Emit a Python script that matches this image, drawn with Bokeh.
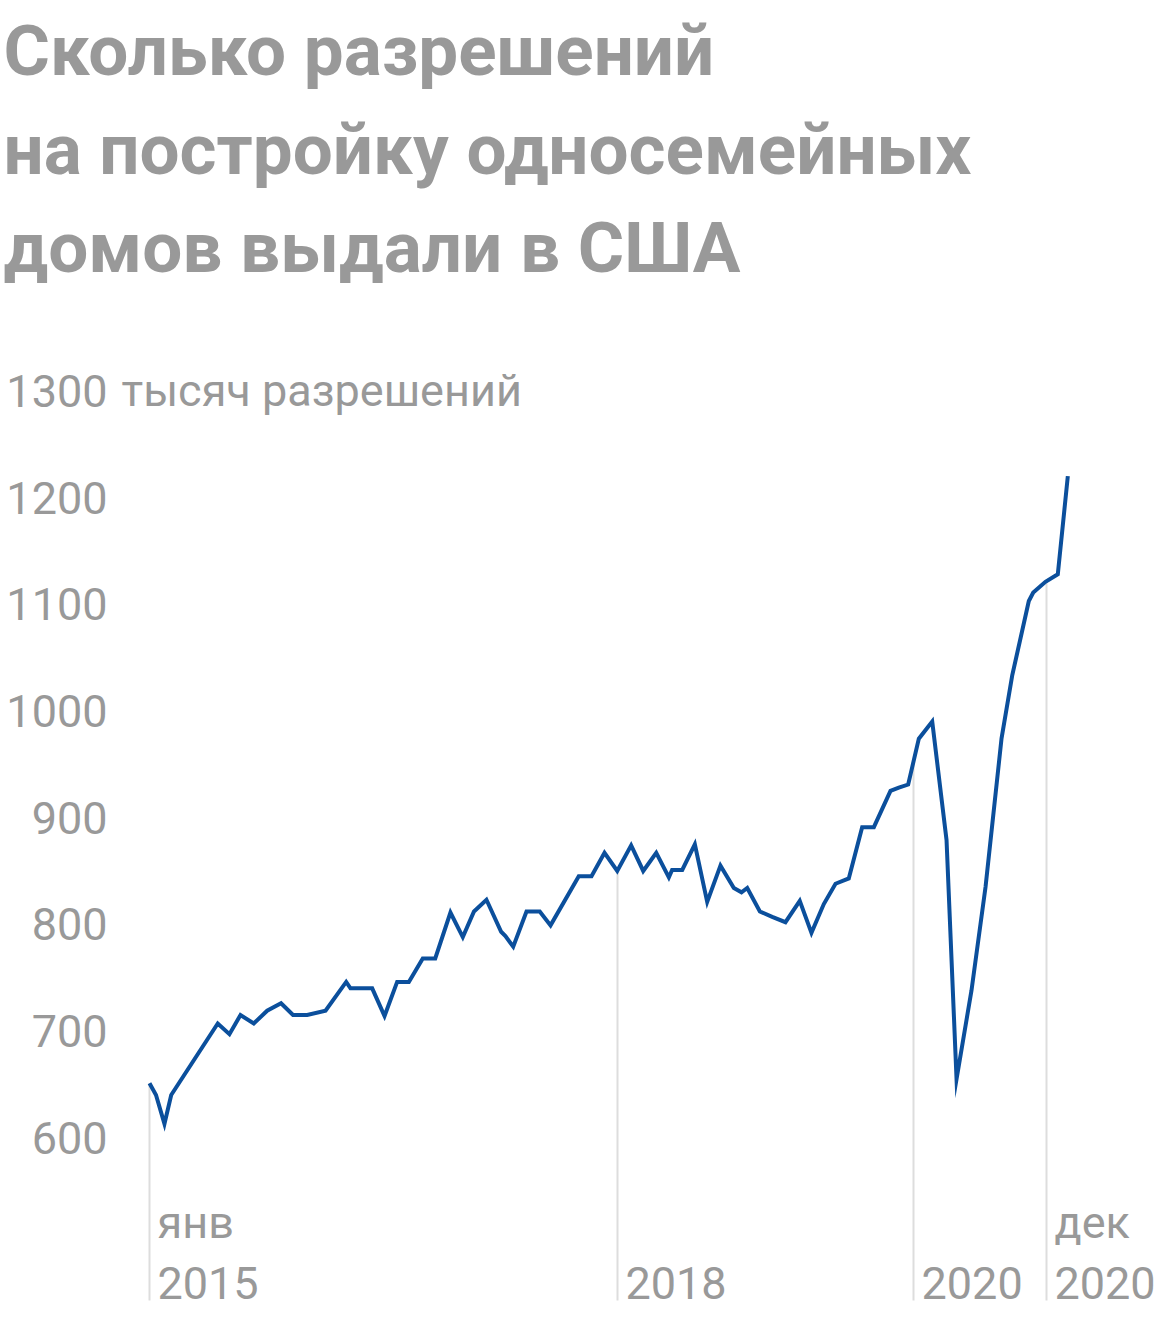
import numpy as np
from bokeh.plotting import figure
from bokeh.models import Range1d
from bokeh.core.properties import value
from bokeh.embed import file_html
from bokeh.resources import INLINE

# ---------------- data ----------------
TITLE_LINES = ["Сколько разрешений", "на постройку односемейных", "домов выдали в США"]
UNIT_LABEL = "тысяч разрешений"

# months since January 2015
months = [0.0, 0.5, 1.15, 1.67, 5.25, 6.15, 7.0, 8.02, 9.05, 10.12,
          11.04, 12.13, 13.54, 15.13, 15.46, 17.13, 18.08, 19.05, 19.95, 21.02,
          21.98, 23.15, 24.1, 24.96, 25.92, 27.05, 27.38, 27.98, 29.0, 30.02,
          30.85, 33.02, 34.0, 35.0, 35.98, 37.05, 37.98, 38.98, 39.95, 40.2,
          40.98, 41.95, 42.9, 43.92, 44.95, 45.54, 45.98, 46.95, 47.9, 48.92,
          50.02, 50.92, 51.87, 52.77, 53.79, 54.82, 55.72, 57.0, 57.64, 58.36,
          59.18, 60.21, 61.31, 62.08, 63.23, 64.31, 65.54, 66.36, 67.64, 67.98,
          68.92, 69.87, 70.64]
# single-family permits, thousands
permits = [651, 640, 613, 640, 707, 697, 715, 707, 719, 726,
           715, 715, 719, 746, 740, 740, 714, 746, 746, 768,
           768, 811, 788, 812, 823, 793, 789, 779, 812, 812,
           799, 845, 845, 867, 850, 874, 850, 867, 844, 851,
           851, 875, 821, 855, 834, 830, 834, 812, 807, 802,
           822, 792, 819, 838, 843, 891, 891, 925, 928, 931,
           974, 990, 879, 655, 738, 835, 974, 1033, 1103, 1111,
           1121, 1128, 1220]

y_ticks = [600, 700, 800, 900, 1000, 1100, 1200, 1300]
y_tick_labels = ["600", "700", "800", "900", "1000", "1100", "1200", "1300"]

marker_months = [0.0, 36.0, 58.77, 69.0]
marker_top = ["янв", "", "", "дек"]
marker_bottom = ["2015", "2018", "2020", "2020"]

# ---------------- geometry (page pixels) ----------------
ORIGIN = 0.0
W, H = 1160, 1312
X0_PX, PX_PER_MONTH = 149.0, 13.0
Y1200_PX, PX_PER_UNIT = 497.0, 1.067


def px_x(px):
    return (px - X0_PX) / PX_PER_MONTH


def px_y(py):
    return 1200 - (py - Y1200_PX) / PX_PER_UNIT


GREY = "#999999"
BLUE = "#0b4f9c"
RULE = "#dddddd"

p = figure(width=W, height=H, output_backend="svg", toolbar_location=None,
           x_range=Range1d(px_x(ORIGIN), px_x(ORIGIN + W)),
           y_range=Range1d(px_y(ORIGIN + H), px_y(ORIGIN)),
           min_border=0, min_border_left=0, min_border_right=0,
           min_border_top=0, min_border_bottom=0)
p.axis.visible = False
p.grid.visible = False
p.outline_line_color = None
p.background_fill_color = "white"
p.border_fill_color = "white"

# title (anchor = vertical middle of capitals)
TITLE_SIZE = "71px"
for i, line in enumerate(TITLE_LINES):
    p.text(x=[px_x(3)], y=[px_y(50 + i * 98.5)], text=[line],
           text_font=value("Roboto"), text_font_style="bold",
           text_font_size=TITLE_SIZE, text_color=GREY,
           text_align="left", text_baseline="middle")

LABEL_SIZE = "45px"
# y tick labels
p.text(x=[px_x(107)] * len(y_ticks), y=y_ticks, text=y_tick_labels,
       text_font=value("Roboto"), text_font_size=LABEL_SIZE, text_color=GREY,
       text_align="right", text_baseline="middle")
p.text(x=[px_x(121)], y=[y_ticks[-1]], text=[UNIT_LABEL],
       text_font=value("Roboto"), text_font_size=LABEL_SIZE, text_color=GREY,
       text_align="left", text_baseline="middle")

# vertical marker rules from floor up to the series
floor = px_y(1300)
tops = np.interp(marker_months, months, permits)
p.segment(x0=marker_months, y0=[floor] * len(marker_months),
          x1=marker_months, y1=list(tops), line_color=RULE, line_width=2)

# marker labels
mx = [m + 8 / PX_PER_MONTH for m in marker_months]
p.text(x=mx, y=[px_y(1222)] * len(mx), text=marker_top,
       text_font=value("Roboto"), text_font_size=LABEL_SIZE, text_color=GREY,
       text_align="left", text_baseline="middle")
p.text(x=mx, y=[px_y(1282)] * len(mx), text=marker_bottom,
       text_font=value("Roboto"), text_font_size=LABEL_SIZE, text_color=GREY,
       text_align="left", text_baseline="middle")

# series
p.line(months, permits, line_color=BLUE, line_width=4, line_join="miter")

open("out.html", "w").write(file_html(p, INLINE))
